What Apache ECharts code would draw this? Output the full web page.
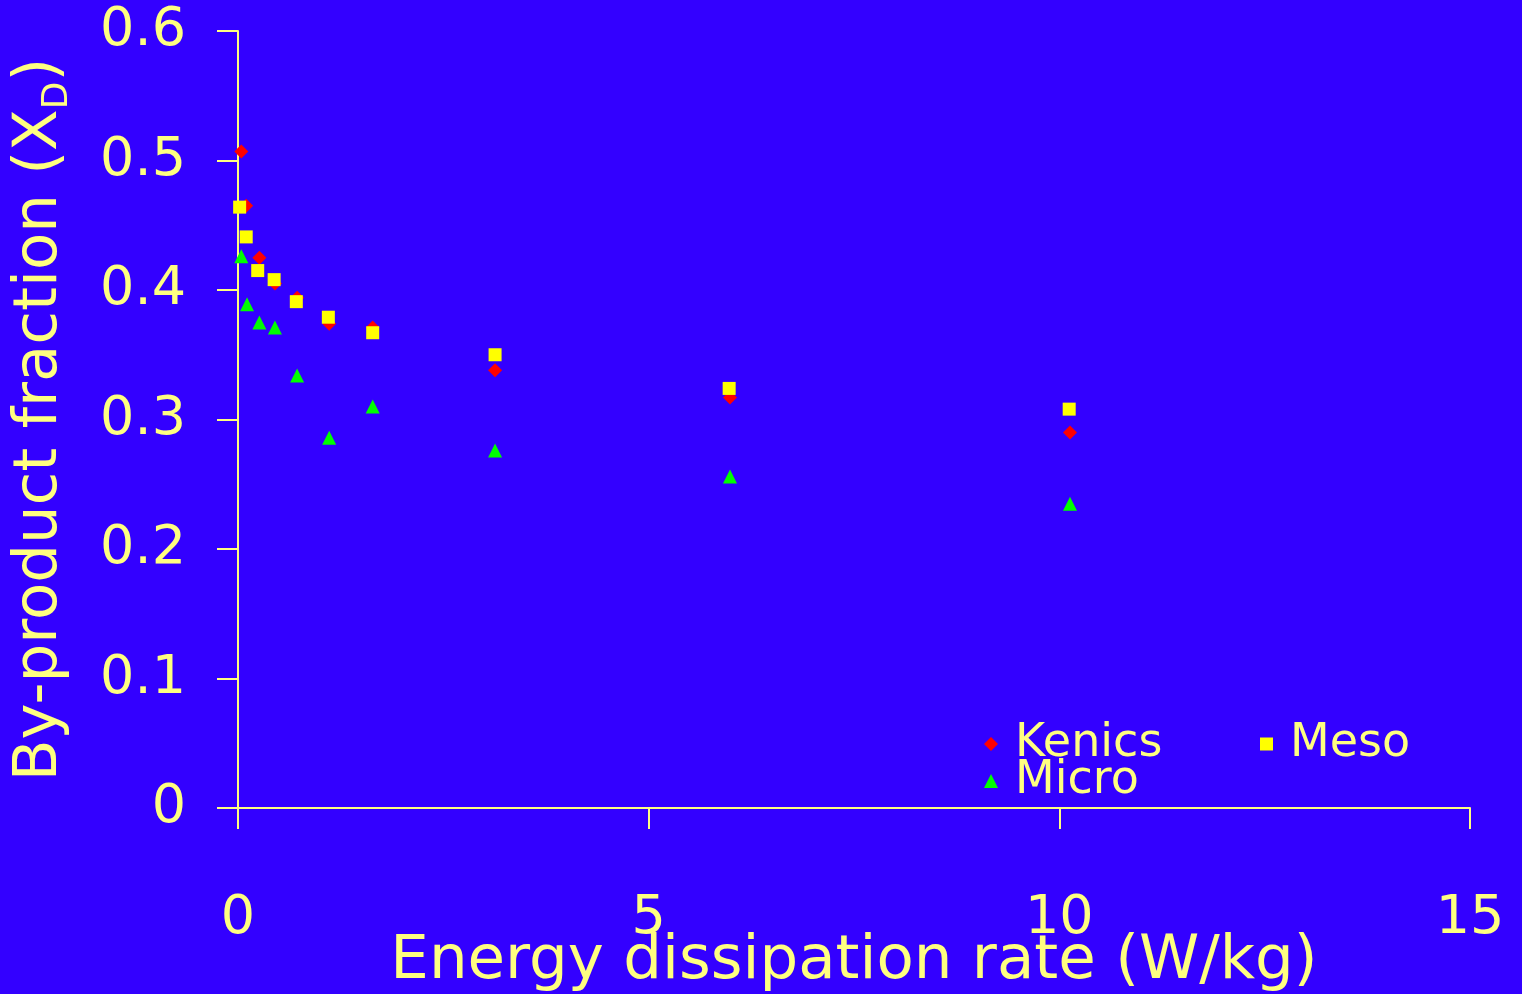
<!DOCTYPE html>
<html>
<head>
<meta charset="utf-8">
<script src="https://cdn.jsdelivr.net/npm/echarts@6/dist/echarts.min.js"></script>
<style>
	html, body { margin: 0; padding: 0; background: #3300ff; }
	#chart { width: 1522px; height: 994px; }
</style>
</head>
<body>
<div id="chart"></div>
<script>
// energy dissipation rate (W/kg) for each run
var kenicsX = [0.04, 0.10, 0.26, 0.45, 0.72, 1.11, 1.64, 3.13, 5.99, 10.13];
var kenicsY = [0.507, 0.465, 0.425, 0.405, 0.394, 0.374, 0.371, 0.338, 0.317, 0.290];

var mesoX = [0.02, 0.10, 0.24, 0.44, 0.71, 1.10, 1.64, 3.13, 5.98, 10.12];
var mesoY = [0.464, 0.441, 0.415, 0.408, 0.391, 0.379, 0.367, 0.350, 0.324, 0.308];

var microX = [0.04, 0.11, 0.26, 0.45, 0.72, 1.11, 1.64, 3.13, 5.99, 10.13];
var microY = [0.426, 0.389, 0.375, 0.371, 0.334, 0.286, 0.310, 0.276, 0.256, 0.235];

var font = 'DejaVu Sans';
var fg = '#ffff80';

function pairs(a, b) {
	var out = [];
	for (var i = 0; i < a.length; i++) {
		out.push([a[i], b[i]]);
	}
	return out;
}

var chart = echarts.init(document.getElementById('chart'));

chart.setOption({
	backgroundColor: '#3300ff',
	animation: false,
	grid: { left: 238, right: 52, top: 31, bottom: 186, containLabel: false, outerBoundsMode: 'none' },
	legend: [{
		orient: 'vertical',
		left: 979,
		top: 716,
		itemWidth: 14,
		itemHeight: 14,
		itemGap: -9,
		data: [
			{ name: 'Kenics', icon: 'diamond' },
			{ name: 'Micro', icon: 'triangle' }
		],
		textStyle: { color: fg, fontFamily: font, fontSize: 46, padding: [0, 0, 0, 12] }
	}, {
		orient: 'vertical',
		left: 1255,
		top: 716,
		itemWidth: 13,
		itemHeight: 13,
		data: [{ name: 'Meso', icon: 'rect' }],
		textStyle: { color: fg, fontFamily: font, fontSize: 46, padding: [0, 0, 0, 12] }
	}],
	xAxis: {
		type: 'value',
		min: 0,
		max: 15,
		interval: 5,
		name: 'Energy dissipation rate (W/kg)',
		nameLocation: 'middle',
		nameMoveOverlap: false,
		nameGap: 124,
		nameTextStyle: { color: fg, fontFamily: font, fontSize: 61 },
		axisLine: { lineStyle: { color: fg, width: 2 } },
		axisTick: { length: 21, lineStyle: { color: fg, width: 2 } },
		axisLabel: { color: fg, fontFamily: font, fontSize: 54, margin: 84 },
		splitLine: { show: false }
	},
	yAxis: {
		type: 'value',
		min: 0,
		max: 0.6,
		interval: 0.1,
		name: '{m|By-product fraction (X}{s|D}{m|)}',
		nameLocation: 'middle',
		nameMoveOverlap: false,
		nameGap: 162,
		nameTextStyle: {
			color: fg,
			fontFamily: font,
			rich: {
				m: { color: fg, fontFamily: font, fontSize: 61, lineHeight: 72 },
				s: { color: fg, fontFamily: font, fontSize: 36, lineHeight: 72, verticalAlign: 'bottom', padding: [22, 0, 0, 0] }
			}
		},
		axisLine: { lineStyle: { color: fg, width: 2 } },
		axisTick: { length: 21, lineStyle: { color: fg, width: 2 } },
		axisLabel: { color: fg, fontFamily: font, fontSize: 54, margin: 52 },
		splitLine: { show: false }
	},
	series: [{
		name: 'Kenics',
		type: 'scatter',
		symbol: 'diamond',
		symbolSize: 14,
		itemStyle: { color: '#ff0000', opacity: 1 },
		data: pairs(kenicsX, kenicsY)
	}, {
		name: 'Micro',
		type: 'scatter',
		symbol: 'triangle',
		symbolSize: 14,
		itemStyle: { color: '#00ff00', opacity: 1 },
		data: pairs(microX, microY)
	}, {
		name: 'Meso',
		type: 'scatter',
		symbol: 'rect',
		symbolSize: 13,
		itemStyle: { color: '#ffff00', opacity: 1 },
		data: pairs(mesoX, mesoY)
	}]
});
</script>
</body>
</html>
